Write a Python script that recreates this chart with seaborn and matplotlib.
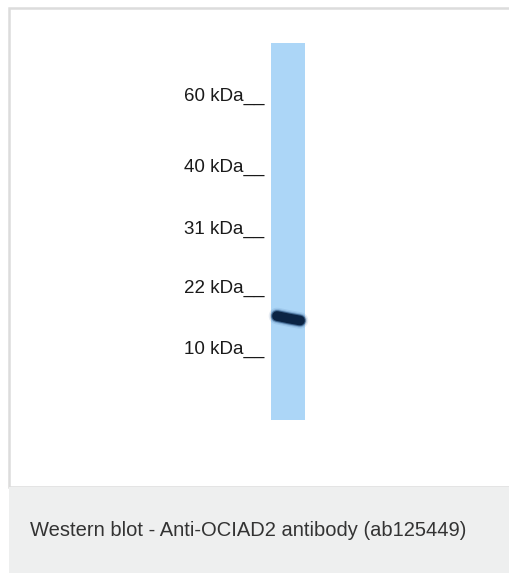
import matplotlib
matplotlib.use("Agg")
import matplotlib.pyplot as plt
import seaborn as sns
import pandas as pd
from matplotlib.patches import Rectangle

# ---- data ----
marker_labels = ["60 kDa", "40 kDa", "31 kDa", "22 kDa", "10 kDa"]
marker_migration = [101, 172, 234, 293, 354]   # migration position along the lane (px, label baseline)
lane_start, lane_end = 43, 420                  # lane extent along migration axis
band_x = [277, 289, 300]                        # band profile across the lane
band_migration = [316.0, 318.5, 320.5]
caption = "Western blot - Anti-OCIAD2 antibody (ab125449)"

sns.set_theme(style="white")
plt.rcParams["font.family"] = ["Liberation Sans", "DejaVu Sans"]

fig = plt.figure(figsize=(5.10, 5.73), dpi=100)
ax = fig.add_axes([0, 0, 1, 1])

# panel frame and caption area
ax.add_patch(Rectangle((9, 8), 510, 479, facecolor="white", edgecolor="#dcdcdc", lw=1.8, zorder=0))
ax.add_patch(Rectangle((9, 487), 510, 90, facecolor="#eeefef", edgecolor="none", zorder=1))

# lane
lane_df = pd.DataFrame({"x": [271, 305], "top": [lane_start] * 2, "bottom": [lane_end] * 2})
ax.fill_between(lane_df["x"], lane_df["top"], lane_df["bottom"], color="#acd6f7", lw=0, zorder=2)

# band (soft edges built from stacked strokes)
band_df = pd.DataFrame({"x": band_x, "y": band_migration})
for lw, alpha, col in [(12, 0.12, "#3a6a9e"), (10, 0.25, "#2a5586"), (8.5, 0.6, "#153862"), (7, 1.0, "#0b2444")]:
    sns.lineplot(data=band_df, x="x", y="y", ax=ax, color=col, lw=lw, alpha=alpha,
                 solid_capstyle="round", zorder=3, legend=False)

ax.set_xlim(0, 510)
ax.set_ylim(573, 0)
ax.axis("off")

# marker labels
for lab, y in zip(marker_labels, marker_migration):
    ax.text(264, y, lab + "__", ha="right", va="baseline", fontsize=13.5, color="#1a1a1a", zorder=4)

# caption
ax.text(30, 536.5, caption, ha="left", va="baseline", fontsize=14.5, color="#333333", zorder=4)

fig.savefig("out.png", dpi=100)
